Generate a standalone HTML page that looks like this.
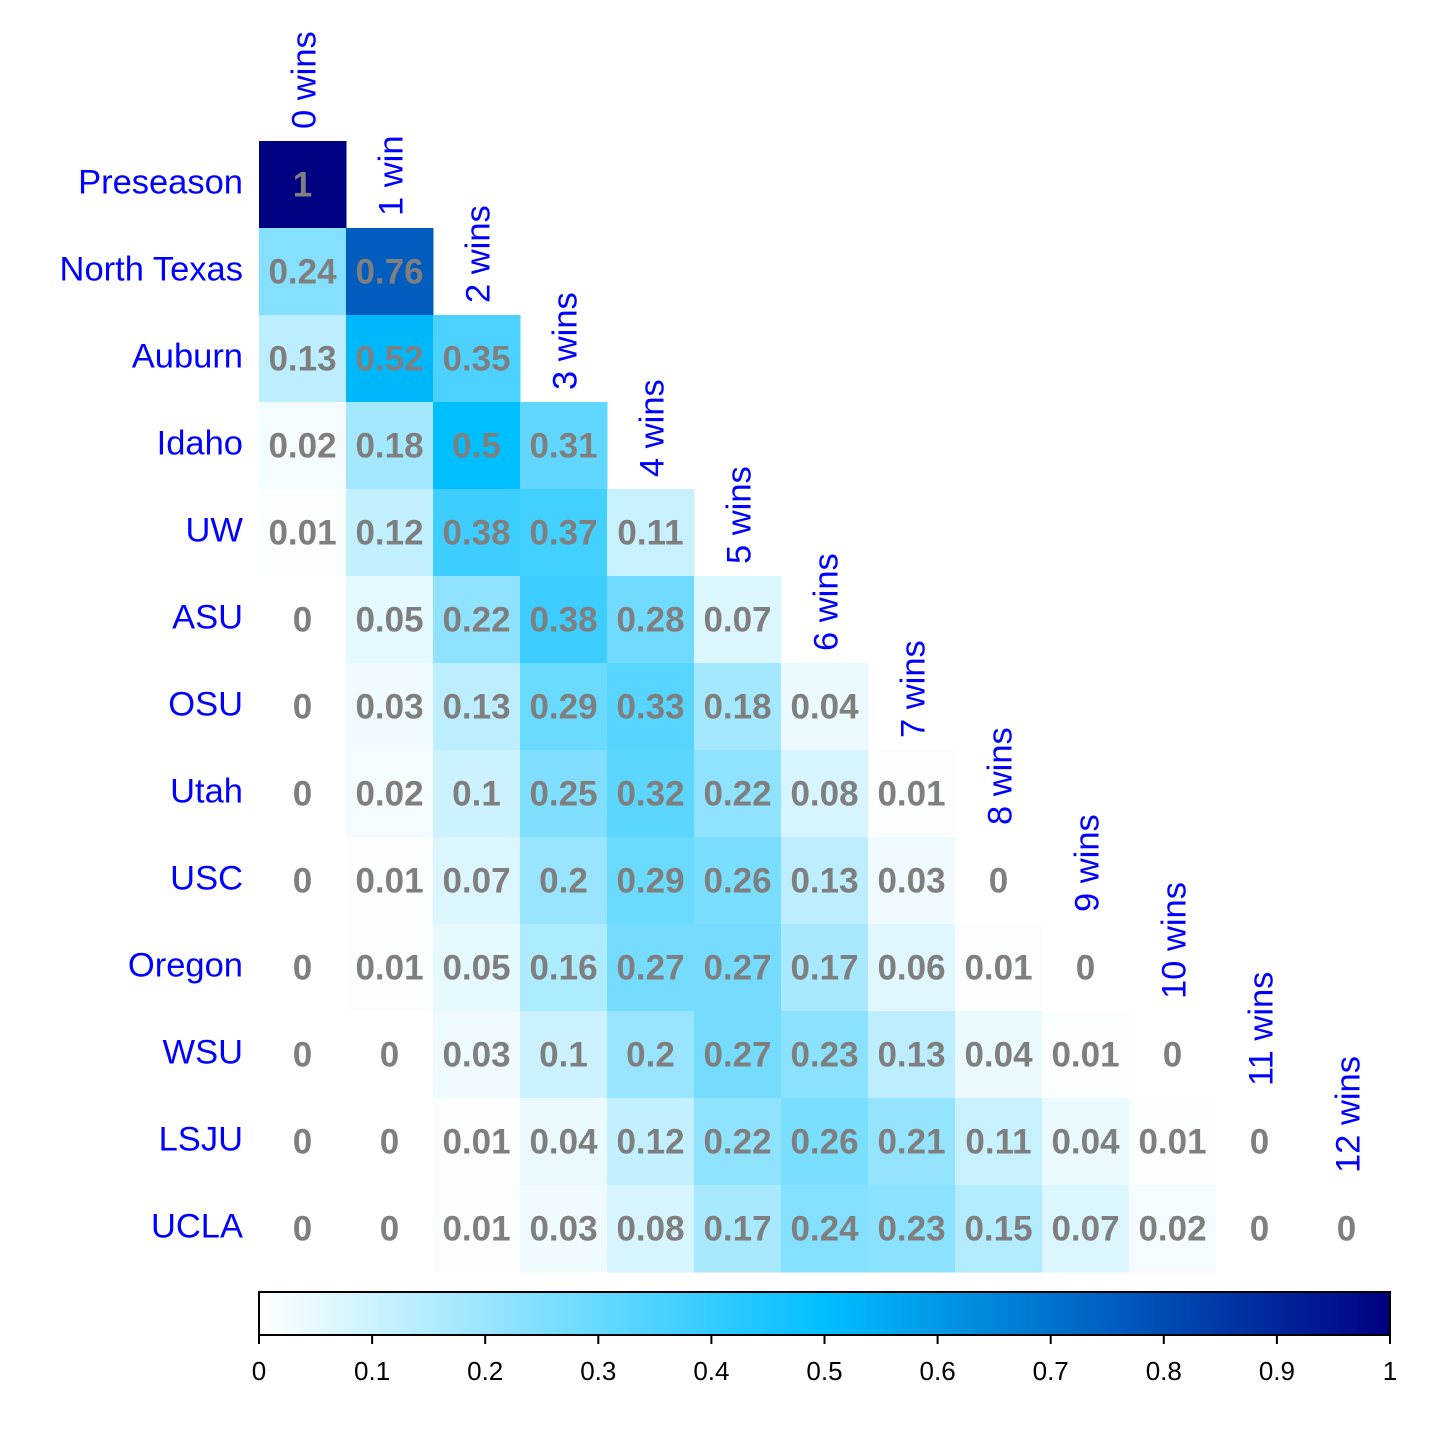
<!DOCTYPE html>
<html><head><meta charset="utf-8"><style>
html,body{margin:0;padding:0;background:#fff;}
svg{display:block;font-family:"Liberation Sans",Arial,sans-serif;}
</style></head><body>
<svg id="chart" width="1456" height="1456" viewBox="0 0 1456 1456"></svg>
<script>
const rowLabels = ["Preseason","North Texas","Auburn","Idaho","UW","ASU","OSU","Utah","USC","Oregon","WSU","LSJU","UCLA"];
const colLabels = ["0 wins","1 win","2 wins","3 wins","4 wins","5 wins","6 wins","7 wins","8 wins","9 wins","10 wins","11 wins","12 wins"];
const values = [
 [1],
 [0.24,0.76],
 [0.13,0.52,0.35],
 [0.02,0.18,0.5,0.31],
 [0.01,0.12,0.38,0.37,0.11],
 [0,0.05,0.22,0.38,0.28,0.07],
 [0,0.03,0.13,0.29,0.33,0.18,0.04],
 [0,0.02,0.1,0.25,0.32,0.22,0.08,0.01],
 [0,0.01,0.07,0.2,0.29,0.26,0.13,0.03,0],
 [0,0.01,0.05,0.16,0.27,0.27,0.17,0.06,0.01,0],
 [0,0,0.03,0.1,0.2,0.27,0.23,0.13,0.04,0.01,0],
 [0,0,0.01,0.04,0.12,0.22,0.26,0.21,0.11,0.04,0.01,0],
 [0,0,0.01,0.03,0.08,0.17,0.24,0.23,0.15,0.07,0.02,0,0]
];
const ticks = [0,0.1,0.2,0.3,0.4,0.5,0.6,0.7,0.8,0.9,1];

const NS = "http://www.w3.org/2000/svg";
const svg = document.getElementById("chart");
const x0 = 259, y0 = 141, cw = 87, ch = 87;
const xPos = j => x0 + j*cw;
const yPos = i => y0 + i*ch;
function color(v){
  let r,g,b;
  if (v <= 0.5){ const t = v/0.5; r = 255*(1-t); g = 255 + (191-255)*t; b = 255; }
  else { const t = (v-0.5)/0.5; r = 0; g = 191*(1-t); b = 255 + (128-255)*t; }
  return `rgb(${Math.round(r)},${Math.round(g)},${Math.round(b)})`;
}
function mk(tag, attrs){ const e = document.createElementNS(NS, tag); for (const k in attrs) e.setAttribute(k, attrs[k]); svg.appendChild(e); return e; }

values.forEach((row, i) => {
  row.forEach((v, j) => {
    const r = mk("rect", {x: xPos(j), y: yPos(i), width: cw+0.5, height: ch+0.5, fill: color(v)});
    
    
  });
});
values.forEach((row, i) => {
  row.forEach((v, j) => {
    const t = mk("text", {x: xPos(j)+cw/2, y: yPos(i)+ch/2+12, "text-anchor":"middle", "font-size":35, "font-weight":"bold", fill:"#7f7f7f"});
    t.textContent = String(v);
    
    
  });
});
rowLabels.forEach((l, i) => {
  const t = mk("text", {x: 243, y: yPos(i)+ch/2+9, "text-anchor":"end", "font-size":34.5, fill:"#0000ff"});
  t.textContent = l;
  
  
});
colLabels.forEach((l, j) => {
  const cx = xPos(j)+cw/2+13, by = yPos(j)-12;
  const t = mk("text", {x: 0, y: 0, transform:`translate(${cx},${by}) rotate(-90)`, "text-anchor":"start", "font-size":34.5, fill:"#0000ff"});
  t.textContent = l;
  
  
});

// colorbar
const cbX = 259, cbW = 1131, cbY = 1292, cbH = 43;
const defs = mk("defs", {});
const grad = document.createElementNS(NS, "linearGradient");
grad.setAttribute("id", "cbgrad");
for (let k = 0; k <= 20; k++){
  const s = document.createElementNS(NS, "stop");
  s.setAttribute("offset", (k/20*100) + "%");
  s.setAttribute("stop-color", color(k/20));
  grad.appendChild(s);
}
defs.appendChild(grad);
const cb = mk("rect", {x: cbX, y: cbY, width: cbW, height: cbH, fill: "url(#cbgrad)", stroke: "#000", "stroke-width": 2});


const cbScale = v => cbX + v*cbW;
ticks.forEach(v => {
  const ln = mk("line", {x1: cbScale(v), x2: cbScale(v), y1: cbY+cbH, y2: cbY+cbH+9, stroke: "#000", "stroke-width": 2});
  
  
  const t = mk("text", {x: cbScale(v), y: 1380, "text-anchor":"middle", "font-size":26, fill:"#000"});
  t.textContent = String(v);
  
  
});
</script>
</body></html>
